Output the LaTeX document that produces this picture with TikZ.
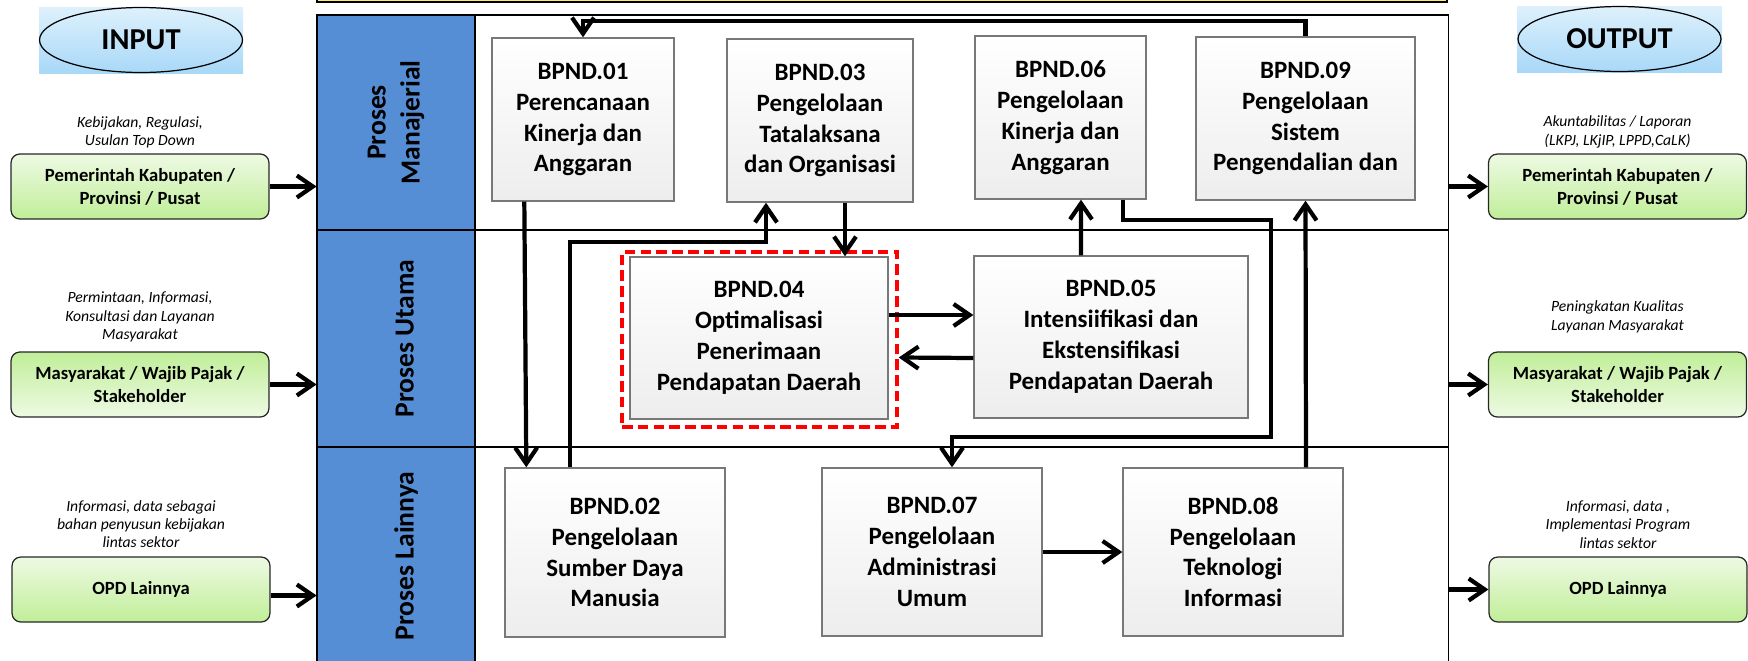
\documentclass[tikz,border=0pt]{standalone}
\usepackage{fontspec}
\setmainfont{Carlito}
\usetikzlibrary{arrows.meta,calc,positioning,shapes.geometric}
\definecolor{lanebl}{RGB}{85,142,213}
\definecolor{grn}{RGB}{192,238,152}
\definecolor{grnlt}{RGB}{238,250,228}
\definecolor{skylt}{RGB}{222,241,252}
\definecolor{sky}{RGB}{168,216,248}
\definecolor{boxline}{RGB}{120,120,120}
\definecolor{barylw}{RGB}{255,236,120}

\begin{document}
\begin{tikzpicture}[x=0.02cm, y=-0.02cm,
    conn/.style={line width=2.4pt, -{Straight Barb[length=3.2mm,width=4.4mm]}},
    bpnd/.style={draw=boxline, line width=0.8pt, top color=white, bottom color=black!7,
      align=center, inner sep=2pt, font=\fontsize{14.2}{17.6}\selectfont\bfseries},
    actor/.style={draw=black!85, line width=0.7pt, rounded corners=5pt, align=center,
      minimum width=5.16cm, minimum height=1.3cm, font=\fontsize{10.6}{13.1}\selectfont\bfseries},
    note/.style={align=center, inner sep=0pt, font=\fontsize{8.9}{10.5}\selectfont\itshape},
    lanerow/.style={draw, line width=0.6pt, minimum width=22.64cm, inner sep=0pt},
    lanelab/.style={fill=lanebl, draw, line width=0.6pt, rotate=90, minimum height=3.16cm,
      align=center, inner sep=0pt, font=\fontsize{15.7}{19.4}\selectfont\bfseries},
    io/.style={draw, ellipse, line width=0.7pt, minimum width=4.06cm, minimum height=1.3cm,
      font=\fontsize{17.3}{20}\selectfont\bfseries}]

\useasboundingbox (0,0) rectangle (1748,660);

% Yellow bar at the top
\draw[fill=barylw, line width=0.6pt] (317,-10) rectangle (1447,2);

% Swimlanes
\node[lanerow, minimum height=4.3cm] (row1) at (883,122.5) {};
\node[lanerow, minimum height=4.34cm] (row2) at (883,338.5) {};
\node[lanerow, minimum height=4.36cm] (row3) at (883,556) {};
\node[lanelab, minimum width=4.3cm] (lab1) at (396,122.5) {Proses\\Manajerial};
\node[lanelab, minimum width=4.34cm, text height=0.81cm, text depth=0.11cm] (lab2) at (396,338.5) {Proses Utama};
\node[lanelab, minimum width=4.36cm, text height=0.81cm, text depth=0.11cm] (lab3) at (396,556) {Proses Lainnya};

% Input side
\shade[top color=skylt, bottom color=sky] (39,7) rectangle (243,73);
\node[io] (inp) at (141,40) {INPUT};
\node[actor, top color=grnlt, bottom color=grn] (in1) at (140,186.5) {Pemerintah Kabupaten /\\Provinsi / Pusat};
\node[actor, top color=grn, bottom color=grnlt] (in2) at (140,384.5) {Masyarakat / Wajib Pajak /\\Stakeholder};
\node[actor, top color=grnlt, bottom color=grn] (in3) at (141,589.5) {OPD Lainnya};
\node[note, above=0.1cm of in1] (n1) {Kebijakan, Regulasi,\\Usulan Top Down};
\node[note, above=0.18cm of in2] (n2) {Permintaan, Informasi,\\Konsultasi dan Layanan\\Masyarakat};
\node[note, above=0.16cm of in3] (n3) {Informasi, data sebagai\\bahan penyusun kebijakan\\lintas sektor};

% Output side
\shade[top color=skylt, bottom color=sky] (1517,6) rectangle (1722,72);
\node[io] (outp) at (1619.5,39) {OUTPUT};
\node[actor, top color=grnlt, bottom color=grn] (out1) at (1617.5,186.5) {Pemerintah Kabupaten /\\Provinsi / Pusat};
\node[actor, top color=grn, bottom color=grnlt] (out2) at (1617.5,384.5) {Masyarakat / Wajib Pajak /\\Stakeholder};
\node[actor, top color=grnlt, bottom color=grn] (out3) at (1618,589.5) {OPD Lainnya};
\node[note, above=0.1cm of out1] (m1) {Akuntabilitas / Laporan\\(LKPJ, LKjIP, LPPD,CaLK)};
\node[note, above=0.37cm of out2] (m2) {Peningkatan Kualitas\\Layanan Masyarakat};
\node[note, above=0.15cm of out3] (m3) {Informasi, data ,\\Implementasi Program\\lintas sektor};

% Business processes
\node[bpnd, minimum width=3.64cm, minimum height=3.26cm] (b01) at (583,119.5) {BPND.01\\Perencanaan\\Kinerja dan\\Anggaran};
\node[bpnd, minimum width=3.72cm, minimum height=3.26cm] (b03) at (820,120.5) {BPND.03\\Pengelolaan\\Tatalaksana\\dan Organisasi};
\node[bpnd, minimum width=3.42cm, minimum height=3.26cm] (b06) at (1060.5,117.5) {BPND.06\\Pengelolaan\\Kinerja dan\\Anggaran};
\node[bpnd, minimum width=4.38cm, minimum height=3.26cm] (b09) at (1305.5,118.5) {BPND.09\\Pengelolaan\\Sistem\\Pengendalian dan};
\node[draw=red, dashed, dash pattern=on 6pt off 3pt, line width=2pt, minimum width=5.5cm, minimum height=3.5cm] (b04f) at (759.5,339.5) {};
\node[bpnd, minimum width=5.16cm, minimum height=3.24cm] (b04) at (759,338) {BPND.04\\Optimalisasi\\Penerimaan\\Pendapatan Daerah};
\node[bpnd, minimum width=5.48cm, minimum height=3.24cm] (b05) at (1111,337) {BPND.05\\Intensiifikasi dan\\Ekstensifikasi\\Pendapatan Daerah};
\node[bpnd, minimum width=4.4cm, minimum height=3.38cm] (b02) at (615,552.5) {BPND.02\\Pengelolaan\\Sumber Daya\\Manusia};
\node[bpnd, minimum width=4.4cm, minimum height=3.36cm] (b07) at (932,552) {BPND.07\\Pengelolaan\\Administrasi\\Umum};
\node[bpnd, minimum width=4.4cm, minimum height=3.36cm] (b08) at (1233,552) {BPND.08\\Pengelolaan\\Teknologi\\Informasi};

% Input and output arrows
\coordinate (a3) at ($(in3.east)+(0,6)$);
\draw[conn] (in1.east) -- (in1.east -| row1.west);
\draw[conn] (in2.east) -- (in2.east -| row2.west);
\draw[conn] (a3) -- (a3 -| row3.west);
\draw[conn] (out1.west -| row1.east) -- (out1.west);
\draw[conn] (out2.west -| row2.east) -- (out2.west);
\draw[conn] (out3.west -| row3.east) -- (out3.west);

% Flow between processes
\coordinate (looptop) at (583,21);
\coordinate (j23) at (766,242);
\coordinate (r1) at (1271,220);
\coordinate (r2) at (952,437);
\draw[conn] (b09.north) |- (looptop) -- (b01.north);
\draw[conn] ($(b01.south west)+(33,0)$) -- ($(b02.north west)+(22,0)$);
\draw[conn] ($(b02.north west)+(66,0)$) |- (j23) -- (j23 |- b03.south);
\draw[conn] ($(b03.south)+(25,0)$) -- ($(b04.north)+(86,0)$);
\draw[conn] ($(b04.east)+(0,-23)$) -- ($(b05.west)+(0,-22)$);
\draw[conn] ($(b05.west)+(0,21)$) -- ($(b04f.east)+(0,18)$);
\draw[conn] ($(b05.north)+(-30,0)$) -- ($(b06.south)+(20.5,0)$);
\draw[conn] ($(b06.south east)+(-24,0)$) |- (r1) |- (r2) -- (r2 |- b07.north);
\draw[conn] (b07.east) -- (b08.west);
\draw[conn] ($(b08.north)+(73,0)$) -- (b09.south);

\end{tikzpicture}
\end{document}
